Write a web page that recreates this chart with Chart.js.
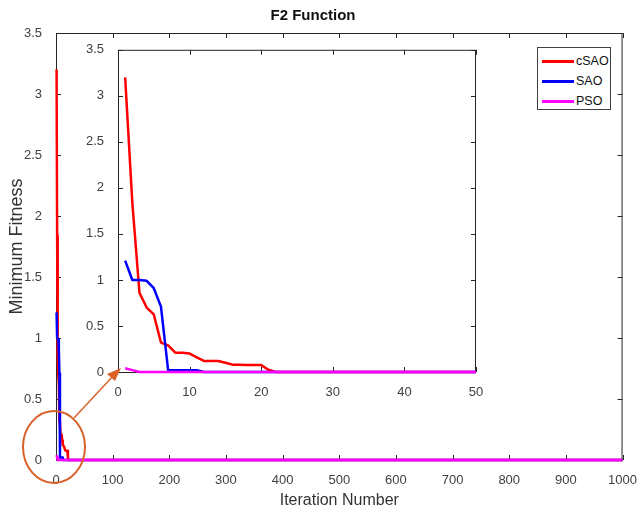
<!DOCTYPE html>
<html>
<head>
<meta charset="utf-8">
<script src="https://cdn.jsdelivr.net/npm/chart.js@4"></script>
<style>
    body { margin: 0; background: #fff; font-family: "Liberation Sans", Arial, sans-serif; }
    #wrap { position: relative; width: 642px; height: 518px; }
    #mainChart { position: absolute; left: 0; top: 0; }
    #insetChart { position: absolute; left: 85px; top: 36px; }
    #legend { position: absolute; left: 537px; top: 47px; width: 74px; height: 63px; border: 1px solid #404040; background: #fff; box-sizing: border-box; }
    .item { position: absolute; left: 4px; height: 14px; font-size: 12.5px; color: #111; line-height: 14px; }
    .item span.line { position: absolute; left: 0; top: 6px; width: 32px; height: 3px; }
    .item span.txt { position: absolute; left: 34px; top: 0; }
    #mark { position: absolute; left: 0; top: 0; pointer-events: none; }
</style>
</head>
<body>
<div id="wrap">
    <canvas id="mainChart" width="642" height="518"></canvas>
    <canvas id="insetChart" width="405" height="364"></canvas>
    <svg id="mark" width="642" height="518">
        <ellipse cx="54" cy="447" rx="31" ry="36" fill="none" stroke="#D9622B" stroke-width="2"/>
        <line x1="74" y1="418" x2="114" y2="375" stroke="#D9622B" stroke-width="1.5"/>
        <polygon points="121,368 107,374 115,381" fill="#D9622B"/>
    </svg>
    <div id="legend"></div>
</div>
<script>
// iterations and minimum fitness per algorithm
const nomes = ["cSAO", "SAO", "PSO"];
const cores = ["#FF0000", "#0000FF", "#FF00FF"];

const iterCSAO = [1, 2, 3, 4, 5, 6, 7, 8, 9, 10, 11, 12, 13, 14, 15, 16, 17, 18, 19, 20, 21, 22, 1000];
const valCSAO = [3.20, 1.84, 0.86, 0.70, 0.625, 0.32, 0.29, 0.21, 0.21, 0.20, 0.16, 0.12, 0.12, 0.12, 0.10, 0.08, 0.08, 0.075, 0.075, 0.075, 0.025, 0, 0];

const iterSAO = [1, 2, 3, 4, 5, 6, 7, 8, 9, 10, 11, 12, 1000];
const valSAO = [1.21, 1.0, 1.0, 0.99, 0.91, 0.71, 0.02, 0.02, 0.02, 0.02, 0.02, 0, 0];

const iterPSO = [1, 2, 3, 1000];
const valPSO = [0.04, 0.02, 0, 0];

const yTicks = [0, 0.5, 1, 1.5, 2, 2.5, 3, 3.5];
const xTicksMain = [0, 100, 200, 300, 400, 500, 600, 700, 800, 900, 1000];
const xTicksInset = [0, 10, 20, 30, 40, 50];

function montarSerie(iter, val) {
    return iter.map((x, i) => ({ x: x, y: val[i] }));
}

function montarDatasets(clip) {
    const series = [montarSerie(iterCSAO, valCSAO), montarSerie(iterSAO, valSAO), montarSerie(iterPSO, valPSO)];
    // PSO drawn on top like the picture
    return series.map((d, i) => ({
        label: nomes[i],
        data: d,
        borderColor: cores[i],
        backgroundColor: cores[i],
        borderWidth: 2.5,
        borderJoinStyle: 'round',
        pointRadius: 0,
        tension: 0,
        clip: clip,
        order: 2 - i
    }));
}

// matlab style box with inward ticks, under the lines
const caixaPlugin = {
    id: 'caixa',
    beforeDatasetsDraw(chart) {
        const ctx = chart.ctx;
        const a = chart.chartArea;
        const xs = chart.scales.x;
        const ys = chart.scales.y;
        ctx.save();
        ctx.strokeStyle = '#262626';
        ctx.lineWidth = 1;
        ctx.strokeRect(a.left + 0.5, a.top + 0.5, a.right - a.left - 1, a.bottom - a.top);
        xs.ticks.forEach(t => {
            const px = Math.round(xs.getPixelForValue(t.value)) + 0.5;
            ctx.beginPath();
            ctx.moveTo(px, a.bottom); ctx.lineTo(px, a.bottom - 5);
            ctx.moveTo(px, a.top); ctx.lineTo(px, a.top + 5);
            ctx.stroke();
        });
        ys.ticks.forEach(t => {
            const py = Math.round(ys.getPixelForValue(t.value)) + 0.5;
            ctx.beginPath();
            ctx.moveTo(a.left, py); ctx.lineTo(a.left + 5, py);
            ctx.moveTo(a.right, py); ctx.lineTo(a.right - 5, py);
            ctx.stroke();
        });
        ctx.restore();
    }
};

const fonteTick = { family: "Liberation Sans", size: 13 };

function opcoesEixos(xMax, xTicks, largY, altX, comTitulos) {
    return {
        x: {
            type: 'linear',
            min: 0,
            max: xMax,
            afterBuildTicks: s => { s.ticks = xTicks.map(v => ({ value: v })); },
            afterFit: s => { s.height = altX; },
            grid: { display: false },
            border: { display: false },
            ticks: { color: '#404040', font: fonteTick, padding: 5, maxRotation: 0, callback: v => String(v) },
            title: {
                display: comTitulos,
                text: 'Iteration Number',
                color: '#333',
                font: { family: "Liberation Sans", size: 16 },
                padding: { top: 2, bottom: 8 }
            }
        },
        y: {
            min: 0,
            max: 3.5,
            afterBuildTicks: s => { s.ticks = yTicks.map(v => ({ value: v })); },
            afterFit: s => { s.width = largY; },
            grid: { display: false },
            border: { display: false },
            ticks: { color: '#404040', font: fonteTick, padding: 6, callback: v => String(v) },
            title: {
                display: comTitulos,
                text: 'Minimum Fitness',
                color: '#333',
                font: { family: "Liberation Sans", size: 18 },
                padding: { top: 6, bottom: 0 }
            }
        }
    };
}

new Chart(document.getElementById('mainChart'), {
    type: 'line',
    data: { datasets: montarDatasets({ left: 3, top: 3, right: 0, bottom: 3 }) },
    options: {
        responsive: false,
        animation: false,
        layout: { padding: { top: 0, right: 16, left: 0, bottom: 0 } },
        plugins: {
            legend: { display: false },
            tooltip: { enabled: false },
            title: {
                display: true,
                text: 'F2 Function',
                color: '#111',
                font: { family: "Liberation Sans", size: 15, weight: 'bold' },
                padding: { top: 7, bottom: 8 }
            }
        },
        scales: opcoesEixos(1000, xTicksMain, 56, 58, true)
    },
    plugins: [caixaPlugin]
});

new Chart(document.getElementById('insetChart'), {
    type: 'line',
    data: { datasets: montarDatasets({ left: 3, top: 3, right: 0, bottom: 3 }) },
    options: {
        responsive: false,
        animation: false,
        layout: { padding: { top: 9, right: 14, left: 0, bottom: 0 } },
        plugins: {
            legend: { display: false },
            tooltip: { enabled: false }
        },
        scales: opcoesEixos(50, xTicksInset, 33, 28, false)
    },
    plugins: [caixaPlugin]
});

// legend
const leg = document.getElementById('legend');
nomes.forEach((n, i) => {
    const it = document.createElement('div');
    it.className = 'item';
    it.style.top = (6 + i * 20) + 'px';
    it.innerHTML = `<span class="line" style="background:${cores[i]}"></span><span class="txt">${n}</span>`;
    leg.appendChild(it);
});
</script>
</body>
</html>
